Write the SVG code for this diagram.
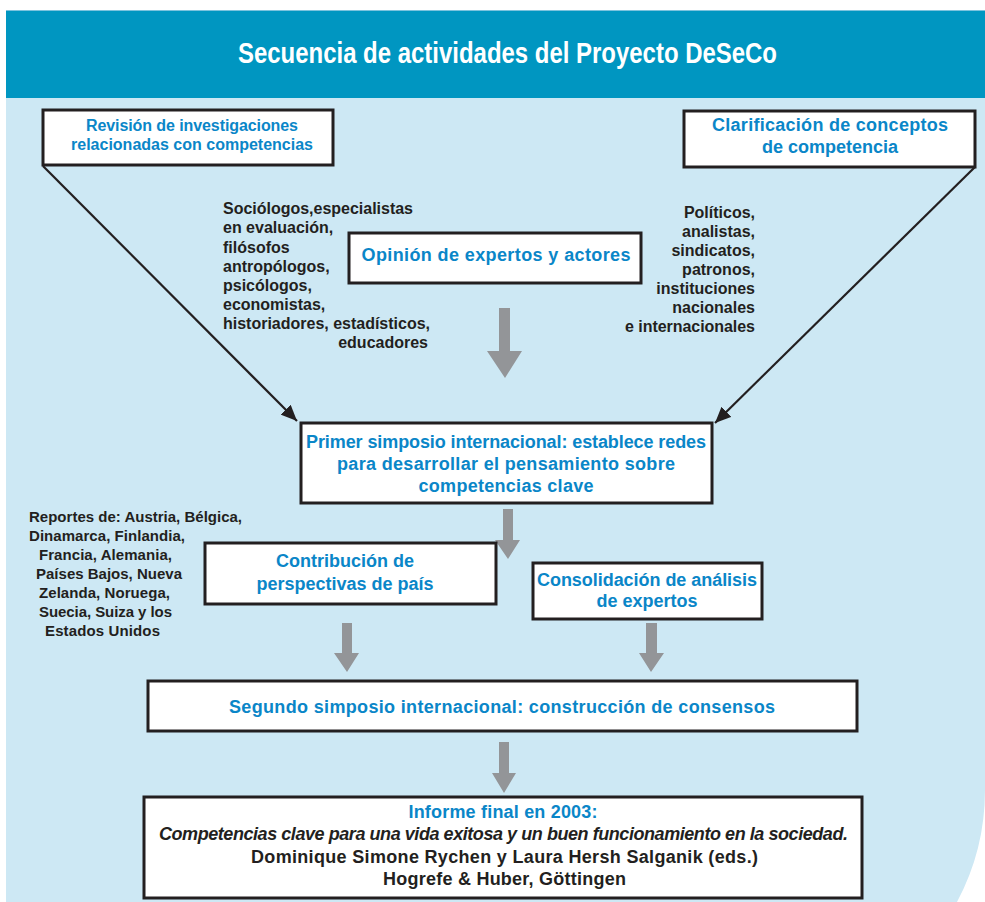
<svg xmlns="http://www.w3.org/2000/svg" width="985" height="902" viewBox="0 0 985 902">
<style>
text{font-family:"Liberation Sans",Arial,Helvetica,sans-serif;font-weight:bold}
.box{fill:#ffffff;stroke:#231f20;stroke-width:3}
.blue{fill:#0a86c8;font-size:18px;text-anchor:middle}
.blue16{fill:#0a86c8;font-size:16px;text-anchor:middle}
.dark{fill:#231f20;font-size:16px}
.rep{fill:#231f20;font-size:15px}
.inf{fill:#231f20;font-size:18px;text-anchor:middle}
.line{stroke:#231f20;stroke-width:2.2;fill:none}
.garrow{fill:#939598}
</style>
<defs>
<marker id="ah" viewBox="0 0 16 14" refX="16" refY="7" markerWidth="16" markerHeight="14" markerUnits="userSpaceOnUse" orient="auto">
<path d="M0,0 L16,7 L0,14 Z" fill="#231f20"/>
</marker>
</defs>
<rect x="0" y="0" width="985" height="902" fill="#ffffff"/>
<rect x="6" y="10" width="979" height="1.5" fill="#7cc3de"/>
<rect x="6" y="11" width="979" height="87" fill="#0096c1"/>
<path d="M6,98 H985 V790 A238,238 0 0 1 957,902 H6 Z" fill="#cde8f4"/>
<text x="507.5" y="63" fill="#ffffff" font-size="29" text-anchor="middle" textLength="539" lengthAdjust="spacingAndGlyphs">Secuencia de actividades del Proyecto DeSeCo</text>

<g id="connectors">
<line class="line" x1="43" y1="166" x2="297" y2="421" marker-end="url(#ah)"/>
<line class="line" x1="975" y1="167" x2="715" y2="423" marker-end="url(#ah)"/>
<polygon class="garrow" points="499,308 510,308 510,351 522,351 505,378 487,351 499,351"/>
<polygon class="garrow" points="503,509 513,509 513,540 520,540 508,559 495,540 503,540"/>
<polygon class="garrow" points="342,623 352,623 352,653 359,653 347,672 334,653 342,653"/>
<polygon class="garrow" points="646,623 657,623 657,653 664,653 651,672 639,653 646,653"/>
<polygon class="garrow" points="499,742 509,742 509,773 516,773 504,793 492,773 499,773"/>
</g>

<g id="revision">
<rect class="box" x="43" y="110" width="290" height="55"/>
<text class="blue16" x="192" y="131" textLength="212">Revisión de investigaciones</text>
<text class="blue16" x="192" y="150" textLength="242">relacionadas con competencias</text>
</g>

<g id="clarificacion">
<rect class="box" x="684" y="111" width="291" height="56"/>
<text class="blue" x="830" y="131" textLength="236">Clarificación de conceptos</text>
<text class="blue" x="830" y="153">de competencia</text>
</g>

<g id="opinion">
<rect class="box" x="349" y="233" width="292" height="50"/>
<text class="blue" x="496" y="261" textLength="269">Opinión de expertos y actores</text>
</g>

<g id="expertos-lista">
<text class="dark" x="223" y="214" textLength="190">Sociólogos,especialistas</text>
<text class="dark" x="223" y="233">en evaluación,</text>
<text class="dark" x="223" y="253">filósofos</text>
<text class="dark" x="223" y="272">antropólogos,</text>
<text class="dark" x="223" y="291">psicólogos,</text>
<text class="dark" x="223" y="310">economistas,</text>
<text class="dark" x="223" y="329" textLength="207">historiadores, estadísticos,</text>
<text class="dark" x="428" y="348" text-anchor="end">educadores</text>
</g>

<g id="actores-lista">
<text class="dark" x="755" y="218" text-anchor="end">Políticos,</text>
<text class="dark" x="755" y="237" text-anchor="end">analistas,</text>
<text class="dark" x="755" y="256" text-anchor="end">sindicatos,</text>
<text class="dark" x="755" y="275" text-anchor="end">patronos,</text>
<text class="dark" x="755" y="294" text-anchor="end">instituciones</text>
<text class="dark" x="755" y="313" text-anchor="end">nacionales</text>
<text class="dark" x="755" y="332" text-anchor="end" textLength="130">e internacionales</text>
</g>

<g id="primer">
<rect class="box" x="301" y="423" width="411" height="80"/>
<text class="blue" x="506" y="448" textLength="400">Primer simposio internacional: establece redes</text>
<text class="blue" x="506" y="470" textLength="338">para desarrollar el pensamiento sobre</text>
<text class="blue" x="506" y="492" textLength="175">competencias clave</text>
</g>

<g id="reportes">
<text class="rep" x="29" y="522" textLength="213">Reportes de: Austria, Bélgica,</text>
<text class="rep" x="29" y="541" textLength="156">Dinamarca, Finlandia,</text>
<text class="rep" x="39" y="560" textLength="133">Francia, Alemania,</text>
<text class="rep" x="36" y="579" textLength="146">Países Bajos, Nueva</text>
<text class="rep" x="39" y="598" textLength="131">Zelanda, Noruega,</text>
<text class="rep" x="39" y="617" textLength="133">Suecia, Suiza y los</text>
<text class="rep" x="45" y="636" textLength="115">Estados Unidos</text>
</g>

<g id="contribucion">
<rect class="box" x="205" y="543" width="291" height="61"/>
<text class="blue" x="345" y="567">Contribución de</text>
<text class="blue" x="345" y="590">perspectivas de país</text>
</g>

<g id="consolidacion">
<rect class="box" x="533" y="563" width="229" height="56"/>
<text class="blue" x="647" y="586" textLength="220">Consolidación de análisis</text>
<text class="blue" x="647" y="607">de expertos</text>
</g>

<g id="segundo">
<rect class="box" x="148" y="681" width="709" height="50"/>
<text class="blue" x="502" y="713" textLength="546">Segundo simposio internacional: construcción de consensos</text>
</g>

<g id="informe">
<rect class="box" x="144" y="797" width="718" height="101"/>
<text class="blue" x="503" y="818" textLength="189">Informe final en 2003:</text>
<text class="inf" x="503.5" y="840" font-style="italic" textLength="689">Competencias clave para una vida exitosa y un buen funcionamiento en la sociedad.</text>
<text class="inf" x="504.5" y="863" textLength="507">Dominique Simone Rychen y Laura Hersh Salganik (eds.)</text>
<text class="inf" x="504.5" y="885" textLength="243">Hogrefe &amp; Huber, Göttingen</text>
</g>
</svg>
